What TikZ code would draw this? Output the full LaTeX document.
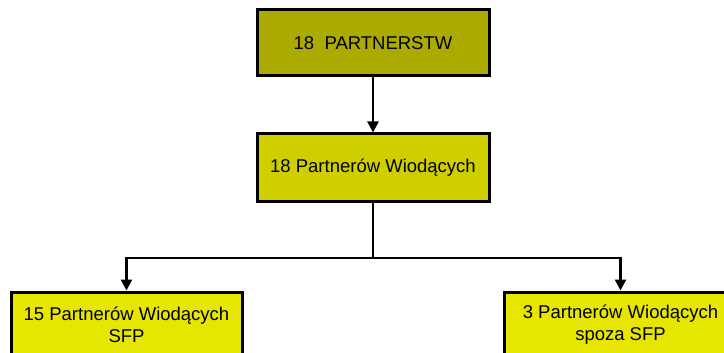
\documentclass[tikz,border=0pt]{standalone}
\usepackage{fontspec}
\setmainfont{Liberation Sans}
\usetikzlibrary{arrows.meta}
\definecolor{olivebox}{HTML}{AAAA00}
\definecolor{midbox}{HTML}{CFCF00}
\definecolor{lowbox}{HTML}{E6E600}
\tikzset{
  orgbox/.style={draw=black, line width=3pt, minimum width=232pt, minimum height=66pt,
    inner sep=0pt, align=center, font=\fontsize{18.5}{22}\selectfont},
  link/.style={draw=black, line width=2.5pt, -{Triangle[width=11pt,length=11pt]}},
  plainlink/.style={draw=black, line width=2.5pt}
}
\begin{document}
\begin{tikzpicture}[x=1pt,y=-1pt]
\useasboundingbox (0,0) rectangle (724,353);
\clip (0,0) rectangle (724,353);
\node[orgbox, fill=olivebox] (top) at (373,43) {18\ \ PARTNERSTW};
\node[orgbox, fill=midbox, minimum height=67pt] (mid) at (373,167.5) {18 Partnerów Wiodących};
\node[orgbox, fill=lowbox, minimum width=231pt] (bl) at (126.5,325) {15 Partnerów Wiodących\\SFP};
\node[orgbox, fill=lowbox] (br) at (620.5,325) {3 Partnerów Wiodących\\spoza SFP};
\coordinate (split) at (373,258);
\draw[link] (top.south) -- (mid.north);
\draw[plainlink] (mid.south) -- (split);
\draw[link] (split) -| (bl.north);
\draw[link] (split) -| (br.north);
\end{tikzpicture}
\end{document}
